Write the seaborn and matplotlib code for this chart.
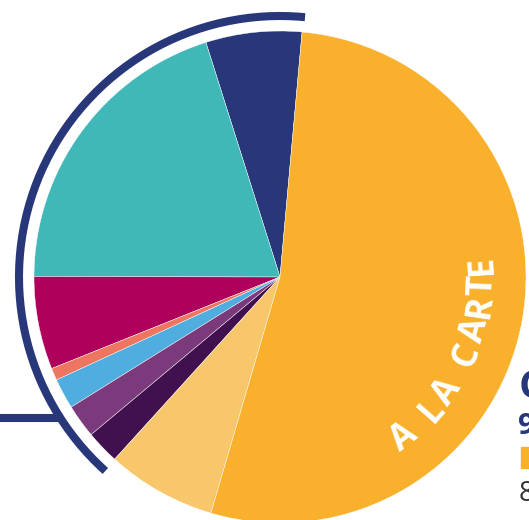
import numpy as np
import matplotlib
matplotlib.use("Agg")
import matplotlib.pyplot as plt
import seaborn as sns
from matplotlib.patches import Arc, Rectangle

sns.set_theme(style="white")
plt.rcParams["font.family"] = ["Open Sans", "DejaVu Sans"]

# parts of the pie, counter-clockwise from the top
categories = ["navy", "teal", "magenta", "salmon", "blue", "purple", "dark purple", "light orange", "a la carte"]
shares = [6.3, 20.1, 6.1, 0.8, 2.0, 2.2, 2.2, 7.2, 53.1]
hex_colors = ["#283779", "#40B8B8", "#AF005C", "#EE7660", "#4FADE0",
              "#7B3A7C", "#41104E", "#F9C76B", "#F9B12D"]
colors = sns.color_palette(hex_colors)
label = "A LA CARTE"

fig = plt.figure(figsize=(5.29, 5.2), dpi=100)
ax = fig.add_axes([0, 0, 1, 1])

cx, cy, r = 280, 243, 246
ax.pie(shares, colors=colors, startangle=84.85, counterclock=True,
       center=(cx, cy), radius=r,
       wedgeprops=dict(edgecolor="white", linewidth=0.3))

# navy bracket around the small slices
ax.add_patch(Arc((cx, cy), 2 * 261, 2 * 261, theta1=84.5, theta2=228,
                 color="#283779", lw=5.8, capstyle="butt"))
ax.plot([0, 61], [102, 102], color="#283779", lw=5.8, solid_capstyle="butt")

# curved label on the big slice, wide letter spacing
w = {"A": 1.0, " ": 0.6, "L": 0.8, "C": 1.0, "R": 0.85, "T": 0.75, "E": 0.8}
steps = [w[c] for c in label]
pos = np.cumsum(steps) - np.array(steps) / 2
pos = (pos - pos[0]) / (pos[-1] - pos[0])
angles = -52.5 + pos * (3.5 + 52.5)
for ch, a in zip(label, angles):
    t = np.deg2rad(a)
    ax.text(cx + 203 * np.cos(t), cy + 203 * np.sin(t), ch, color="white",
            fontsize=25, fontweight="bold", ha="center", va="center",
            rotation=a + 90, rotation_mode="anchor")

# legend cut off at the right edge
ax.text(519, 132, "C", color="#283779", fontsize=29, fontweight="bold", va="center", ha="left")
ax.text(518, 93, "9", color="#283779", fontsize=21, fontweight="bold", va="center", ha="left")
ax.add_patch(Rectangle((521, 52), 20, 21, color="#F9B12D"))
ax.text(519, 26, "8", color="#333333", fontsize=20, va="center", ha="left")
ax.add_patch(Rectangle((521, -20), 20, 15, color="#F9C76B"))

ax.set_xlim(0, 529)
ax.set_ylim(0, 520)
ax.set_aspect("auto")
ax.axis("off")

fig.savefig("out.png", dpi=100)
